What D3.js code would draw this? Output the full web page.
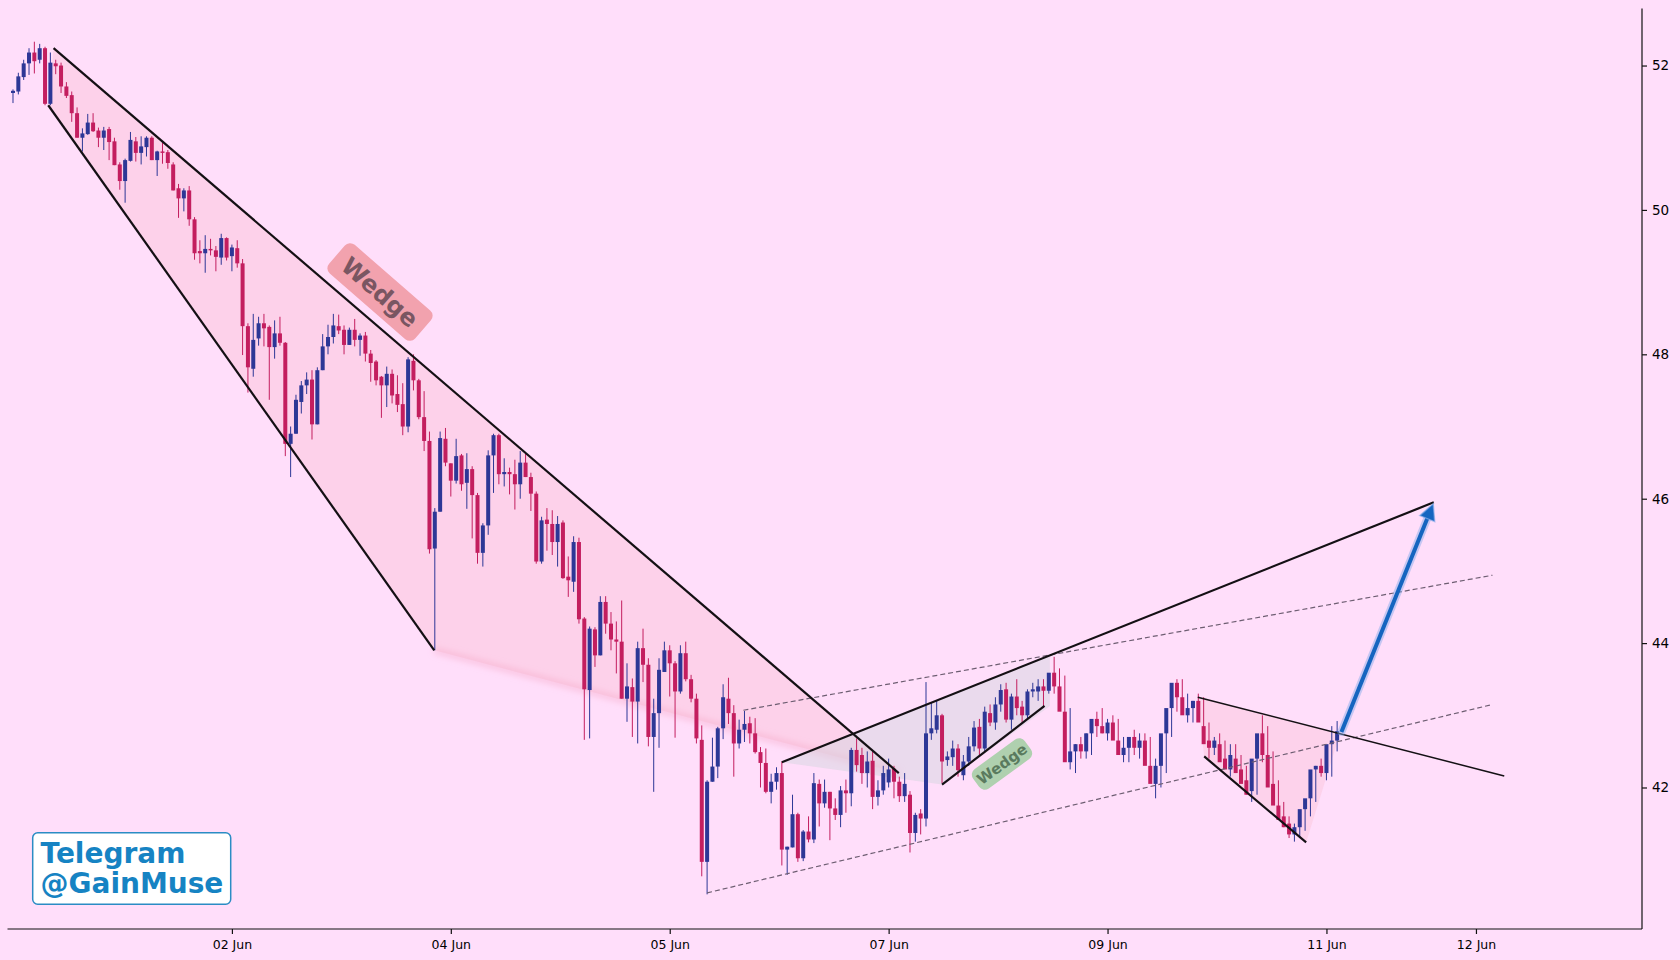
<!DOCTYPE html>
<html>
<head>
<meta charset="utf-8">
<script src="https://cdn.jsdelivr.net/npm/d3@7"></script>
<style>
  html, body { margin: 0; padding: 0; background: #FFDEFA; }
  #chart { width: 1680px; height: 960px; }
  text { font-family: "DejaVu Sans", sans-serif; }
</style>
</head>
<body>
<div id="chart"></div>
<script>
// candle data, one entry per bar (x = bar index)
const opens = [51.62,51.64,51.84,52.03,52.18,52.08,52.24,51.47,52.03,52.0,51.71,51.59,51.34,51.0,51.05,51.21,51.1,51.0,51.12,50.95,
  50.63,50.4,50.68,50.95,50.79,50.87,51.0,50.69,50.81,50.8,50.63,50.3,50.16,50.27,49.87,49.43,49.4,49.46,49.44,49.34,
  49.61,49.36,49.47,49.26,48.39,47.8,48.22,48.43,48.38,48.1,48.29,48.16,46.76,46.9,47.34,47.57,47.65,47.03,47.78,48.11,
  48.24,48.39,48.34,48.13,48.34,48.2,48.26,48.01,47.9,47.69,47.57,47.73,47.45,47.31,47.0,47.91,47.64,47.13,46.8,45.31,
  45.82,46.83,46.49,46.25,46.6,46.22,46.41,46.05,45.25,45.63,46.6,46.88,46.34,46.37,46.34,46.2,46.5,46.3,46.07,45.13,
  45.71,45.65,45.4,45.67,44.92,44.85,45.4,44.34,43.35,44.19,43.83,44.57,44.27,44.05,44.02,43.23,43.39,43.19,43.93,43.7,
  42.7,43.03,43.6,43.9,43.72,43.33,43.86,43.5,43.23,42.66,40.97,42.08,42.29,42.82,43.23,43.03,42.61,42.8,42.89,42.75,
  42.49,42.34,41.94,42.08,42.2,41.14,41.17,41.63,41.02,41.39,41.28,42.05,41.78,41.94,41.71,41.62,41.96,41.92,42.52,42.45,
  42.2,42.37,41.87,41.96,42.07,42.26,42.08,41.88,41.9,41.37,41.64,41.57,42.75,42.8,43.0,42.38,42.42,42.54,42.17,42.36,
  42.57,42.84,42.54,43.03,42.9,43.15,43.36,42.94,43.26,43.12,43.0,43.33,43.33,43.4,43.34,43.59,43.4,43.05,42.35,42.5,
  42.6,42.5,42.75,42.95,42.85,42.75,42.9,42.65,42.45,42.55,42.7,42.55,42.65,42.3,42.05,42.3,42.75,43.1,43.45,43.25,
  43.0,43.1,43.2,42.85,42.65,42.55,42.6,42.4,42.25,42.4,42.25,42.1,41.95,42.4,42.75,42.45,42.05,41.75,41.6,41.5,
  41.35,41.45,41.7,41.85,42.25,42.3,42.2,42.6,42.65];
const highs = [51.67,51.9,52.08,52.24,52.33,52.3,52.26,52.18,52.08,52.04,51.77,51.64,51.42,51.13,51.33,51.34,51.14,51.15,51.15,51.0,
  50.66,50.71,51.08,51.01,51.02,51.02,51.02,50.82,50.93,50.83,50.66,50.36,50.3,50.33,49.9,49.58,49.65,49.6,49.5,49.67,
  49.62,49.52,49.58,49.32,48.43,48.56,48.52,48.56,48.4,48.47,48.52,48.17,47.0,47.44,47.63,47.75,47.78,47.82,48.28,48.41,
  48.56,48.55,48.4,48.37,48.49,48.29,48.31,48.06,47.92,47.7,47.83,47.79,47.71,47.6,47.96,48.0,47.66,47.49,46.93,45.87,
  46.93,46.98,46.49,46.83,46.62,46.63,46.45,46.08,45.66,46.67,46.9,46.9,46.56,46.43,46.54,46.66,46.63,46.36,46.1,45.75,
  45.87,45.84,45.76,45.7,45.2,45.48,45.46,44.36,44.23,44.22,44.65,44.65,44.43,44.3,44.59,43.72,43.51,44.02,44.2,43.79,
  43.23,43.79,44.02,43.97,43.75,43.97,44.02,43.56,43.3,42.86,42.1,42.69,42.84,43.43,43.52,43.14,42.94,43.06,42.98,42.96,
  42.56,42.54,42.19,42.28,42.36,41.18,41.9,41.65,41.41,41.6,42.2,42.11,42.11,41.94,41.85,42.02,42.11,42.55,42.68,42.55,
  42.5,42.5,42.1,42.3,42.4,42.3,42.15,42.2,41.95,41.65,41.7,43.46,43.17,43.2,43.02,42.5,42.65,42.6,42.45,42.7,
  42.92,42.95,43.12,43.15,43.25,43.43,43.45,43.3,43.5,43.2,43.36,43.45,43.5,43.5,43.4,43.81,43.65,43.55,43.1,42.6,
  42.7,42.75,42.8,43.05,43.1,42.95,43.0,42.95,42.7,42.6,42.8,42.75,42.75,42.7,42.4,42.35,42.8,43.15,43.5,43.5,
  43.3,43.2,43.3,43.25,42.9,42.7,42.75,42.65,42.6,42.6,42.45,42.3,42.2,42.6,43.0,42.85,42.5,42.1,41.8,41.6,
  41.5,41.55,41.75,41.9,42.3,42.4,42.5,42.85,42.92];
const lows = [51.48,51.6,51.8,51.87,51.89,52.03,51.45,51.45,51.88,51.62,51.55,51.22,51.0,50.81,51.04,51.08,50.87,50.83,50.69,50.62,
  50.28,50.1,50.67,50.67,50.63,50.74,50.69,50.47,50.64,50.57,50.27,49.89,49.98,49.78,49.31,49.26,49.13,49.37,49.15,49.24,
  49.3,49.15,49.2,47.99,47.47,47.69,48.12,48.11,47.37,47.94,48.12,46.59,46.3,46.9,47.18,47.45,46.82,47.03,47.78,48.0,
  48.15,48.28,48.0,48.13,48.11,47.98,47.9,47.62,47.57,47.12,47.27,47.32,47.2,46.88,46.92,47.5,47.1,46.66,45.24,43.9,
  45.82,46.45,46.03,46.21,46.11,45.86,45.45,45.1,45.06,45.5,46.08,46.2,46.17,46.06,45.85,46.0,46.3,45.83,45.1,45.1,
  45.28,45.22,45.06,44.89,44.64,44.71,44.27,42.66,42.68,43.67,43.83,44.13,43.9,43.58,43.23,42.91,42.7,42.61,43.46,42.57,
  41.94,42.55,43.6,43.26,42.69,43.3,43.47,43.18,42.61,40.77,40.52,42.08,42.13,42.67,42.88,42.15,42.54,42.63,42.61,42.47,
  42.0,41.92,41.78,41.97,40.92,40.79,41.17,40.97,40.98,41.24,41.23,41.46,41.72,41.27,41.55,41.45,41.65,41.74,42.22,42.05,
  42.0,41.7,41.75,41.9,42.0,41.85,41.8,41.8,41.1,41.25,41.35,41.46,42.66,42.75,42.06,42.3,42.3,42.15,42.1,42.3,
  42.5,42.45,42.5,42.85,42.8,43.05,42.9,42.8,43.0,42.9,42.95,43.25,43.2,43.1,43.3,43.3,43.3,42.95,42.25,42.2,
  42.4,42.4,42.45,42.7,42.75,42.65,42.7,42.55,42.35,42.35,42.45,42.4,42.45,42.2,41.85,42.0,42.2,42.7,43.05,43.15,
  42.9,42.9,43.0,42.8,42.4,42.45,42.4,42.3,42.15,42.2,42.1,41.9,41.8,41.9,42.35,42.3,41.95,41.55,41.45,41.3,
  41.25,41.3,41.4,41.6,41.8,42.15,42.1,42.15,42.5];
const closes = [51.65,51.85,52.03,52.18,52.06,52.24,51.47,52.04,51.99,51.71,51.58,51.34,51.0,51.06,51.21,51.09,51.0,51.1,50.94,50.62,
  50.4,50.69,50.97,50.79,50.88,51.0,50.69,50.81,50.79,50.65,50.27,50.16,50.27,49.87,49.4,49.4,49.46,49.44,49.35,49.61,
  49.34,49.48,49.26,48.39,47.82,48.2,48.43,48.36,48.1,48.29,48.16,46.76,46.9,47.37,47.57,47.65,47.03,47.78,48.11,48.24,
  48.4,48.33,48.13,48.34,48.2,48.26,48.01,47.88,47.64,47.57,47.73,47.43,47.3,47.0,47.93,47.64,47.13,46.8,45.3,45.82,
  46.84,46.5,46.25,46.59,46.2,46.41,46.05,45.25,45.63,46.6,46.88,46.34,46.37,46.34,46.2,46.5,46.3,46.07,45.13,45.7,
  45.65,45.4,45.65,44.9,44.87,45.4,44.33,43.36,44.2,43.83,44.57,44.27,44.05,44.02,43.23,43.4,43.19,43.93,43.7,42.7,
  43.03,43.63,43.9,43.72,43.33,43.86,43.5,43.23,42.68,40.97,42.08,42.29,42.82,43.25,43.03,42.61,42.8,42.88,42.75,42.49,
  42.34,41.94,42.08,42.2,41.14,41.18,41.63,41.02,41.39,41.28,42.06,41.78,41.94,41.71,41.62,41.96,41.92,42.52,42.31,42.2,
  42.36,41.87,41.96,42.2,42.25,42.08,41.88,42.05,41.37,41.62,41.57,42.75,42.82,43.0,42.36,42.43,42.54,42.24,42.36,42.57,
  42.83,42.54,43.05,42.9,43.15,43.35,42.94,43.26,43.1,43.0,43.33,43.36,43.4,43.34,43.59,43.4,43.05,42.35,42.5,42.6,
  42.5,42.75,42.95,42.85,42.75,42.9,42.65,42.45,42.55,42.7,42.55,42.65,42.3,42.05,42.3,42.75,43.1,43.45,43.25,43.0,
  43.1,43.2,42.9,42.6,42.55,42.65,42.35,42.25,42.45,42.2,42.05,41.9,42.4,42.75,42.45,42.0,41.75,41.55,41.45,41.35,
  41.45,41.7,41.85,42.25,42.3,42.2,42.6,42.65,42.78];

// axis ticks
const dateTicks = [41, 82, 123, 164, 205, 246, 274];
const dateLabels = ["02 Jun", "04 Jun", "05 Jun", "07 Jun", "09 Jun", "11 Jun", "12 Jun"];
const priceTicks = [42, 44, 46, 48, 50, 52];

// drawn pattern lines, [barIndex, price]
const bigWedgeUpper = [[7.6, 52.24], [165.9, 42.2]];
const bigWedgeLower = [[6.6, 51.45], [78.9, 43.9]];
const risingLine = [[144.0, 42.35], [266.1, 45.95]];
const smallWedgeLower = [[174.0, 42.04], [193.2, 43.13]];
const smallWedgeFill = [[144.0, 42.35], [194.2, 43.84], [194.2, 43.13], [174.0, 42.04]];
const channelUpper = [[136.8, 43.07], [277.1, 44.94]];
const channelLower = [[130.0, 40.54], [277.1, 43.15]];
const fallUpper = [[221.9, 43.25], [279.3, 42.16]];
const fallLower = [[223.1, 42.43], [242.2, 41.24]];
const fallFill = [[221.9, 43.25], [248.5, 42.74], [242.2, 41.24], [223.1, 42.43]];
const arrowPts = [[248.8, 42.77], [266.0, 45.93]];

const width = 1680, height = 960;
const svg = d3.select("#chart").append("svg")
  .attr("width", width).attr("height", height)
  .attr("viewBox", [0, 0, width, height]);

svg.append("rect").attr("width", width).attr("height", height).attr("fill", "#FFDEFA");

const x = d3.scaleLinear().domain([-1.03, 305.1]).range([7.5, 1642]);
const y = d3.scaleLinear().domain([40.04, 52.79]).range([929, 8.5]);
const line = d3.line().x(d => x(d[0])).y(d => y(d[1]));

const defs = svg.append("defs");
defs.append("filter").attr("id", "soft").append("feGaussianBlur").attr("stdDeviation", 3);

// big wedge fill
const bigFill = [bigWedgeUpper[0], bigWedgeUpper[1], bigWedgeLower[1], bigWedgeLower[0]];
svg.append("path").attr("d", line(bigFill) + "Z")
  .attr("fill", "#FCC6DC").attr("fill-opacity", 0.55);
svg.append("path").attr("d", line([bigWedgeLower[1], bigWedgeUpper[1]]))
  .attr("stroke", "#F5A8C6").attr("stroke-width", 6).attr("stroke-opacity", 0.5)
  .attr("fill", "none").attr("filter", "url(#soft)");

// small rising wedge fill
svg.append("path").attr("d", line(smallWedgeFill) + "Z")
  .attr("fill", "#D6D6E0").attr("fill-opacity", 0.5);

// falling wedge fill
svg.append("path").attr("d", line(fallFill) + "Z")
  .attr("fill", "#FCC6DC").attr("fill-opacity", 0.5);

// candles
const candles = svg.append("g").attr("class", "candles");
const idx = d3.range(opens.length);
const colour = i => closes[i] >= opens[i] ? "#2D3796" : "#C31E5F";
candles.selectAll("line").data(idx).enter().append("line")
  .attr("x1", i => x(i)).attr("x2", i => x(i))
  .attr("y1", i => y(highs[i])).attr("y2", i => y(lows[i]))
  .attr("stroke", colour).attr("stroke-width", 1);
candles.selectAll("rect").data(idx).enter().append("rect")
  .attr("x", i => x(i) - 2)
  .attr("width", 4)
  .attr("y", i => y(Math.max(opens[i], closes[i])))
  .attr("height", i => Math.max(1, Math.abs(y(opens[i]) - y(closes[i]))))
  .attr("fill", colour);

// dashed channel
[channelUpper, channelLower].forEach(pts => {
  svg.append("path").attr("d", line(pts)).attr("fill", "none")
    .attr("stroke", "#6E5E72").attr("stroke-width", 1.2).attr("stroke-dasharray", "5,3");
});

// solid pattern lines
[bigWedgeUpper, bigWedgeLower, risingLine, smallWedgeLower, fallLower].forEach(pts => {
  svg.append("path").attr("d", line(pts)).attr("fill", "none")
    .attr("stroke", "#141014").attr("stroke-width", 2.2);
});
svg.append("path").attr("d", line(fallUpper)).attr("fill", "none")
  .attr("stroke", "#141014").attr("stroke-width", 1.5);

// projection arrow
const ax0 = x(arrowPts[0][0]), ay0 = y(arrowPts[0][1]);
const ax1 = x(arrowPts[1][0]), ay1 = y(arrowPts[1][1]);
const ang = Math.atan2(ay1 - ay0, ax1 - ax0);
const headLen = 16, headW = 8;
const bx = ax1 - headLen * Math.cos(ang), by = ay1 - headLen * Math.sin(ang);
svg.append("line").attr("x1", ax0).attr("y1", ay0).attr("x2", bx).attr("y2", by)
  .attr("stroke", "#7FA8E8").attr("stroke-width", 8).attr("stroke-opacity", 0.45)
  .attr("stroke-linecap", "round");
svg.append("line").attr("x1", ax0).attr("y1", ay0).attr("x2", bx).attr("y2", by)
  .attr("stroke", "#1565C0").attr("stroke-width", 4);
const px = -Math.sin(ang), py = Math.cos(ang);
svg.append("path")
  .attr("d", `M${ax1},${ay1}L${bx + px * headW},${by + py * headW}L${bx - px * headW},${by - py * headW}Z`)
  .attr("fill", "#1565C0").attr("stroke", "#7FA8E8").attr("stroke-width", 1.5).attr("stroke-opacity", 0.6);

// wedge labels
function tag(cx, cy, rot, w, h, size, bg, fg) {
  const g = svg.append("g").attr("transform", `translate(${cx},${cy}) rotate(${rot})`);
  g.append("rect").attr("x", -w / 2).attr("y", -h / 2).attr("width", w).attr("height", h)
    .attr("rx", 7).attr("fill", bg);
  g.append("text").attr("text-anchor", "middle").attr("dy", "0.36em")
    .attr("font-size", size).attr("font-weight", "bold").attr("fill", fg).text("Wedge");
}
tag(380, 292, 41, 114, 38, 24, "#F2A2AE", "#7A5662");
tag(1002, 764, -36, 64, 24, 15, "#AFD0AF", "#5A7A5E");

// axes
const yAxis = d3.axisRight(y).tickValues(priceTicks).tickSize(5).tickPadding(5);
const gy = svg.append("g").attr("transform", "translate(1642,0)").call(yAxis);
gy.select(".domain").attr("d", "M0,8.5V929");
gy.selectAll("text").attr("font-size", 13.5).attr("font-family", "DejaVu Sans");

const xAxis = d3.axisBottom(x).tickValues(dateTicks)
  .tickFormat((d, i) => dateLabels[i]).tickSize(5).tickPadding(6);
const gx = svg.append("g").attr("transform", "translate(0,929)").call(xAxis);
gx.select(".domain").attr("d", "M7.5,0H1642");
gx.selectAll("text").attr("font-size", 12.5).attr("font-family", "DejaVu Sans");
svg.selectAll(".domain, .tick line").attr("stroke", "#111").attr("stroke-width", 1.2);

// watermark
const wm = svg.append("g");
wm.append("rect").attr("x", 32.7).attr("y", 832.7).attr("width", 198).attr("height", 71.6)
  .attr("rx", 5).attr("fill", "#FFFFFF").attr("stroke", "#2B8CC4").attr("stroke-width", 1.5);
wm.append("text").attr("x", 40.5).attr("y", 862.5).attr("font-size", 28).attr("font-weight", "bold")
  .attr("fill", "#1683C3").text("Telegram");
wm.append("text").attr("x", 40.5).attr("y", 893).attr("font-size", 28).attr("font-weight", "bold")
  .attr("fill", "#1683C3").text("@GainMuse");
</script>
</body>
</html>
